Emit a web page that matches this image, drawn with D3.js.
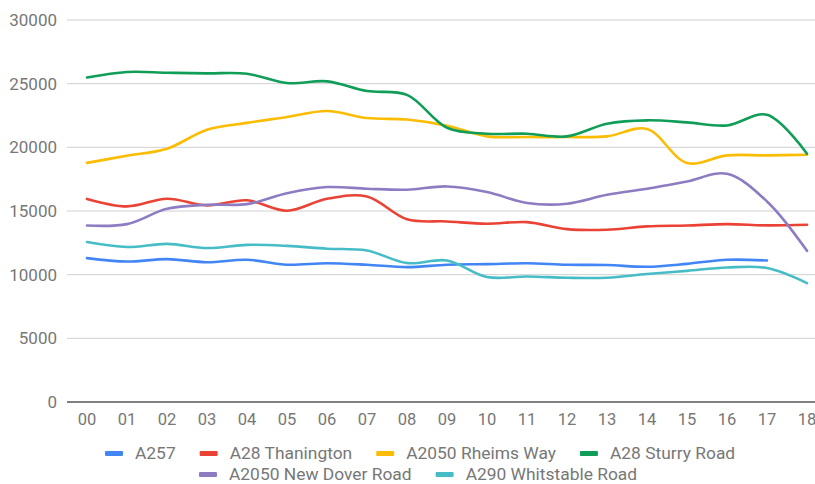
<!DOCTYPE html>
<html>
<head>
<meta charset="utf-8">
<script src="https://cdn.jsdelivr.net/npm/d3@7"></script>
<style>
  html, body { margin: 0; padding: 0; background: #fff; }
  svg { display: block; font-family: Roboto, "Noto Sans", Arial, sans-serif; }
</style>
</head>
<body>
<svg id="chart" width="815" height="484"></svg>
<script>
const years = ["00","01","02","03","04","05","06","07","08","09","10","11","12","13","14","15","16","17","18"];
const yTicks = [0, 5000, 10000, 15000, 20000, 25000, 30000];

const seriesNames = ["A257", "A28 Thanington", "A2050 Rheims Way", "A28 Sturry Road", "A2050 New Dover Road", "A290 Whitstable Road"];
const seriesColors = ["#4285f4", "#ea4335", "#fbbc04", "#0f9d58", "#8e7cc3", "#46bdc6"];

const a257 = [11300, 11030, 11220, 10980, 11170, 10780, 10900, 10780, 10590, 10780, 10830, 10900, 10780, 10760, 10620, 10850, 11170, 11110, null];
const a28Thanington = [15950, 15360, 15960, 15440, 15840, 15020, 15960, 16140, 14350, 14180, 14000, 14130, 13580, 13530, 13790, 13860, 13970, 13870, 13920];
const a2050Rheims = [18780, 19340, 19890, 21380, 21920, 22380, 22850, 22300, 22180, 21700, 20860, 20810, 20810, 20860, 21440, 18770, 19370, 19370, 19420];
const a28Sturry = [25480, 25920, 25860, 25810, 25780, 25050, 25180, 24420, 24120, 21540, 21070, 21070, 20860, 21850, 22120, 21960, 21720, 22560, 19500];
const a2050NewDover = [13860, 13970, 15170, 15490, 15540, 16400, 16880, 16750, 16670, 16930, 16490, 15630, 15570, 16270, 16750, 17320, 17920, 15750, 11870];
const a290Whitstable = [12560, 12170, 12420, 12090, 12340, 12260, 12040, 11900, 10910, 11110, 9810, 9860, 9760, 9760, 10050, 10300, 10560, 10520, 9340];

const seriesValues = [a257, a28Thanington, a2050Rheims, a28Sturry, a2050NewDover, a290Whitstable];

(function () {
const svg = d3.select("#chart");
const pLeft = 67, pRight = 827, pTop = 20, pBottom = 402;

const x = d3.scaleBand().domain(years).range([pLeft, pRight]).padding(0);
const xc = d => x(d) + x.bandwidth() / 2;
const y = d3.scaleLinear().domain([0, 30000]).range([pBottom, pTop]);

// gridlines
const grid = svg.append("g");
grid.selectAll("line").data(yTicks.filter(t => t !== 0)).join("line")
  .attr("x1", pLeft).attr("x2", 815)
  .attr("y1", d => y(d)).attr("y2", d => y(d))
  .attr("stroke", "#d0d0d0").attr("stroke-width", 1);

// y axis labels
const yAxis = d3.axisLeft(y).tickValues(yTicks).tickSize(0).tickPadding(10).tickFormat(d3.format("d"));
const yg = svg.append("g").attr("transform", `translate(${pLeft},0)`).call(yAxis);
yg.select(".domain").remove();
yg.selectAll("text").attr("fill", "#777").style("font-size", "17px").style("font-family", "Roboto, sans-serif");

// x axis labels
const xAxis = d3.axisBottom(x).tickSize(0).tickPadding(11);
const xg = svg.append("g").attr("transform", `translate(0,${pBottom})`).call(xAxis);
xg.select(".domain").remove();
xg.selectAll("text").attr("fill", "#777").style("font-size", "16.5px").style("font-family", "Roboto, sans-serif");

// baseline
svg.append("line").attr("x1", pLeft).attr("x2", 815).attr("y1", y(0)).attr("y2", y(0))
  .attr("stroke", "#555").attr("stroke-width", 1.5);

// lines
const line = d3.line()
  .defined(d => d.v !== null)
  .x(d => xc(d.k))
  .y(d => y(d.v))
  .curve(d3.curveCatmullRom.alpha(0.5));

seriesValues.forEach((vals, i) => {
  svg.append("path")
    .datum(years.map((k, j) => ({k, v: vals[j]})))
    .attr("fill", "none")
    .attr("stroke", seriesColors[i])
    .attr("stroke-width", 2.6)
    .attr("stroke-linejoin", "round")
    .attr("stroke-linecap", "round")
    .attr("d", line);
});

// legend
const rows = [[0, 1, 2, 3], [4, 5]];
const rowY = [453.5, 474.5];
const rowStart = [105, 199];
rows.forEach((row, r) => {
  let cx = rowStart[r];
  row.forEach(i => {
    const g = svg.append("g");
    g.append("rect").attr("x", cx).attr("y", rowY[r] - 2.5).attr("width", 18).attr("height", 5)
      .attr("rx", 1).attr("fill", seriesColors[i]);
    const t = g.append("text").attr("x", cx + 30).attr("y", rowY[r] + 5.5)
      .attr("fill", "#777").style("font-size", "17.4px").style("font-family", "Roboto, sans-serif")
      .text(seriesNames[i]);
    const w = t.node().getComputedTextLength();
    cx = cx + 30 + w + 24;
  });
});
})();
</script>
</body>
</html>
